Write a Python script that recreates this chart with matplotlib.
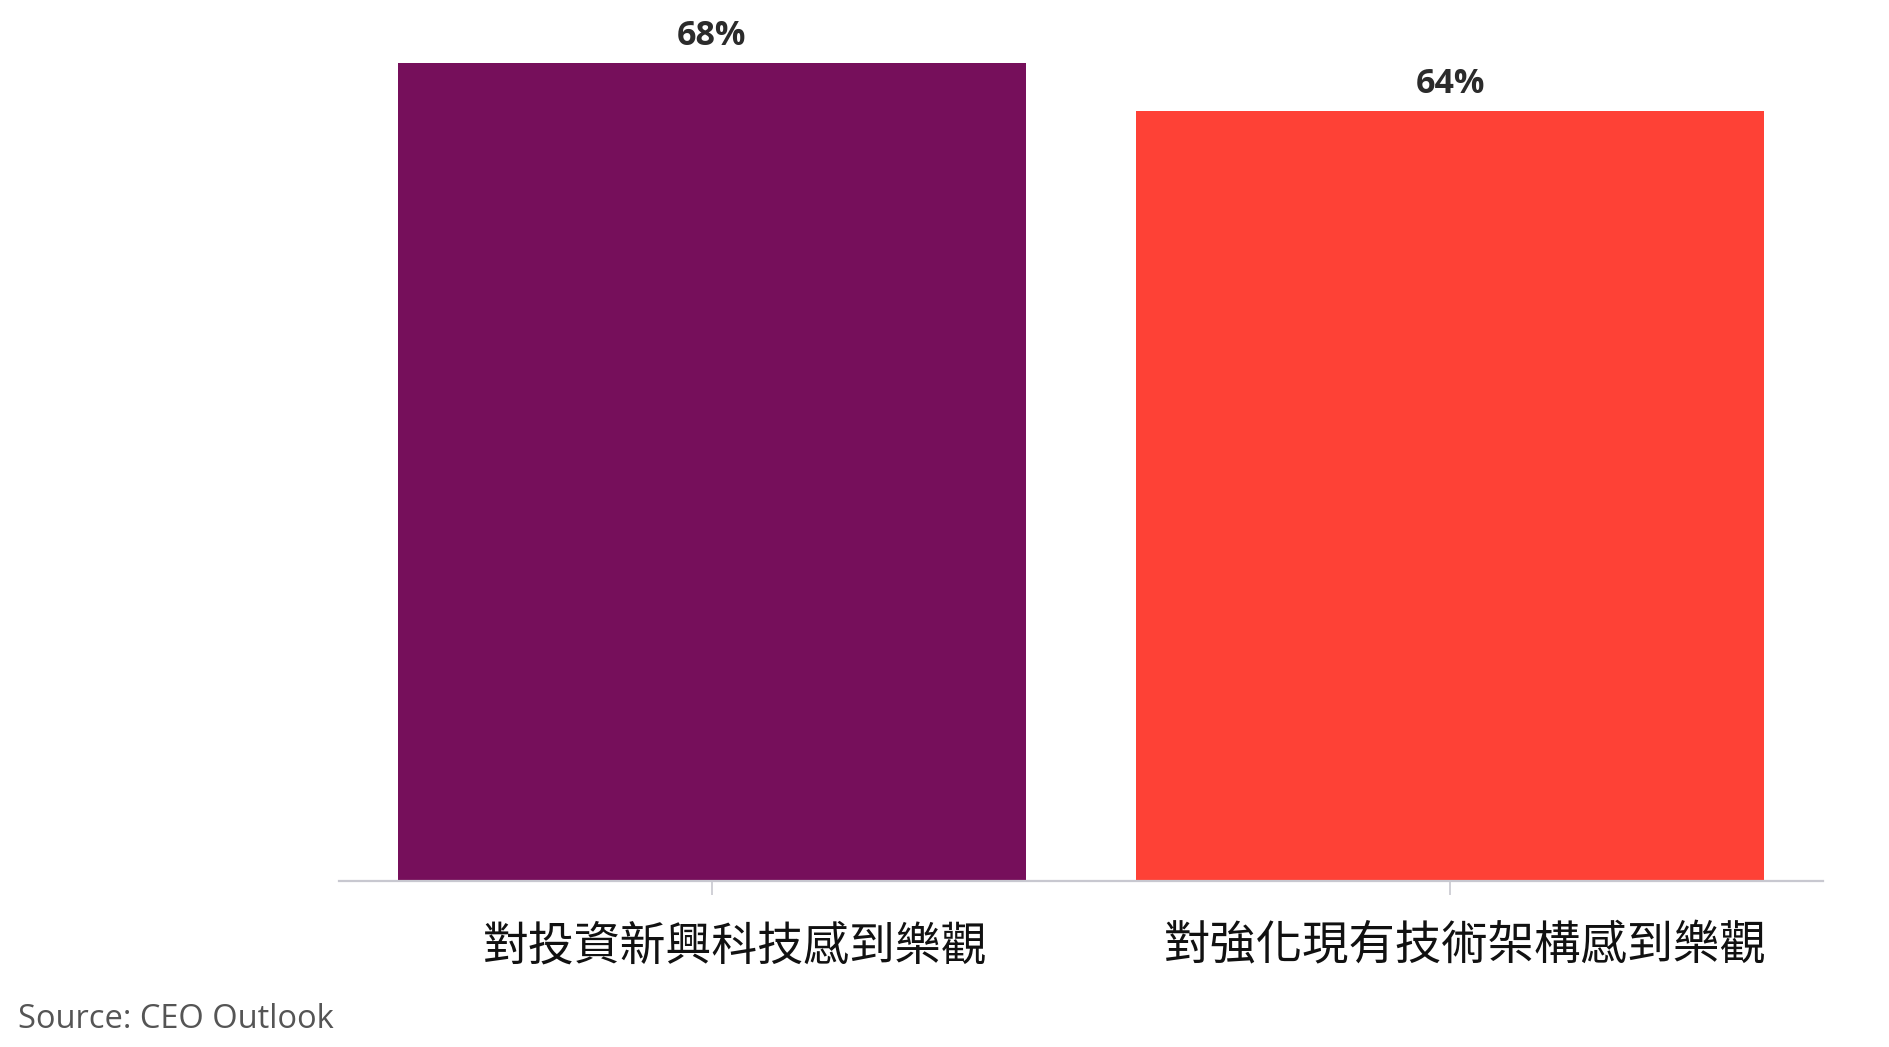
import matplotlib
matplotlib.use("Agg")
import matplotlib.pyplot as plt

categories = ["對投資新興科技感到樂觀", "對強化現有技術架構感到樂觀"]
values = [68, 64]
value_labels = ["68%", "64%"]
colors = ["#760f5b", "#fe4136"]

plt.rcParams['font.family'] = ['Noto Sans CJK TC', 'DejaVu Sans']

fig = plt.figure(figsize=(18.89, 10.47), dpi=100)
ax = fig.add_axes([339 / 1889, 1 - 881 / 1047, 1484 / 1889, (881 - 39) / 1047])

x = list(range(len(categories)))
bars = ax.bar(x, values, width=0.85, color=colors, zorder=2)

ax.set_xlim(-0.505, 1.505)
ax.set_ylim(0, 70)

for s in ["top", "right", "left"]:
    ax.spines[s].set_visible(False)
ax.spines["bottom"].set_color("#c8c8d0")
ax.spines["bottom"].set_linewidth(1.6)
ax.set_yticks([])
ax.set_xticks(x)
ax.set_xticklabels([])
ax.tick_params(axis="x", length=10, width=1.2, color="#c8c8d0")

# value labels above bars
for b, lab in zip(bars, value_labels):
    ax.annotate(lab, (b.get_x() + b.get_width() / 2, b.get_height()),
                xytext=(0, 7), textcoords="offset points",
                ha="center", va="bottom", fontsize=24.5, fontweight="bold",
                color="#2b2b2b", family=["Open Sans", "DejaVu Sans"])

# category labels under the axis
label_sizes = [33, 33.4]
label_shift = [17, 11]
for i, cat in enumerate(categories):
    ax.annotate(cat, (i, 0), xytext=(label_shift[i], -29.5),
                textcoords="offset points", ha="center", va="top",
                fontsize=label_sizes[i], color="#111111")

fig.text(18 / 1889, 1 - 1028 / 1047, "Source: CEO Outlook", fontsize=23.5,
         color="#555555", va="baseline", ha="left",
         family=["Open Sans", "DejaVu Sans"])

fig.savefig("out.png", dpi=100, facecolor="white")
